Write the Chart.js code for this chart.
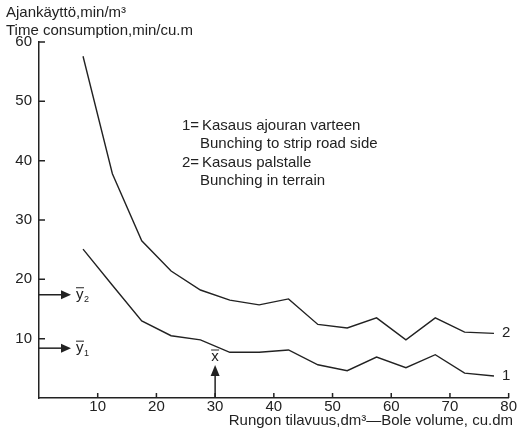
<!DOCTYPE html>
<html>
<head>
<meta charset="utf-8">
<script src="https://cdn.jsdelivr.net/npm/chart.js@4"></script>
<style>
html,body{margin:0;padding:0;background:#fff}
</style>
</head>
<body>
<canvas id="chart" width="517" height="428"></canvas>
<script>
// bole volume class midpoints, dm3
const volume = [7.5,12.5,17.5,22.5,27.5,32.5,37.5,42.5,47.5,52.5,57.5,62.5,67.5,72.5,77.5];
// 1 = bunching to strip road side
const roadSide = [25.1,19.0,13.0,10.5,9.8,7.7,7.7,8.1,5.6,4.6,6.9,5.1,7.3,4.2,3.7];
// 2 = bunching in terrain
const terrain = [57.6,37.8,26.5,21.4,18.2,16.5,15.7,16.7,12.4,11.8,13.5,9.8,13.5,11.1,10.9];
const xTicks = [10,20,30,40,50,60,70,80];
const yTicks = [10,20,30,40,50,60];
const meanY1 = 8.4, meanY2 = 17.4, meanX = 30;

const ink = '#222';
const FONT = '"Liberation Sans", Arial, sans-serif';
Chart.defaults.font.family = FONT;
Chart.defaults.font.size = 15;
Chart.defaults.color = ink;

function pts(ys){ return volume.map((v,i)=>({x:v, y:ys[i]})); }

const extras = {
  id:'extras',
  afterDraw(chart){
    const {ctx, chartArea:a, scales:{x, y}} = chart;
    ctx.save();
    ctx.strokeStyle = ink; ctx.fillStyle = ink; ctx.lineWidth = 1.5;

    // tick marks pointing inwards
    ctx.beginPath();
    xTicks.forEach(v=>{ const px = x.getPixelForValue(v); ctx.moveTo(px, a.bottom); ctx.lineTo(px, a.bottom-5); });
    yTicks.forEach(v=>{ const py = y.getPixelForValue(v); ctx.moveTo(a.left, py); ctx.lineTo(a.left+6, py); });
    ctx.stroke();

    ctx.font = '15px '+FONT;
    ctx.textBaseline = 'middle';
    ctx.textAlign = 'left';
    ctx.fillText('Ajankäyttö,min/m³', 6, 13);
    ctx.fillText('Time consumption,min/cu.m', 6, 31);

    // legend text
    ctx.fillText('1=', 182, 126);
    ctx.fillText('Kasaus ajouran varteen', 202, 126);
    ctx.fillText('Bunching to strip road side', 200, 144);
    ctx.fillText('2=', 182, 163);
    ctx.fillText('Kasaus palstalle', 202, 163);
    ctx.fillText('Bunching in terrain', 200, 181);

    // series numbers at the line ends
    const last = volume.length-1;
    ctx.fillText('2', x.getPixelForValue(volume[last])+8, y.getPixelForValue(terrain[last]));
    ctx.fillText('1', x.getPixelForValue(volume[last])+8, y.getPixelForValue(roadSide[last]));

    ctx.textAlign = 'right';
    ctx.fillText('Rungon tilavuus,dm³—Bole volume, cu.dm', 513, 421);

    // mean arrows on y axis
    [[meanY2,'2'],[meanY1,'1']].forEach(([v,sub])=>{
      const py = y.getPixelForValue(v);
      ctx.beginPath(); ctx.moveTo(a.left, py); ctx.lineTo(a.left+24, py); ctx.stroke();
      ctx.beginPath(); ctx.moveTo(a.left+22, py-4.5); ctx.lineTo(a.left+32, py); ctx.lineTo(a.left+22, py+4.5); ctx.closePath(); ctx.fill();
      ctx.textAlign = 'left';
      ctx.font = '15px '+FONT;
      ctx.fillText('y', a.left+37, py);
      ctx.lineWidth = 1;
      ctx.beginPath(); ctx.moveTo(a.left+37, py-7); ctx.lineTo(a.left+45, py-7); ctx.stroke();
      ctx.lineWidth = 1.5;
      ctx.font = '9px '+FONT;
      ctx.fillText(sub, a.left+45, py+5);
    });

    // mean arrow on x axis
    const px = x.getPixelForValue(meanX);
    ctx.beginPath(); ctx.moveTo(px, a.bottom); ctx.lineTo(px, a.bottom-24); ctx.stroke();
    ctx.beginPath(); ctx.moveTo(px-4.5, a.bottom-22); ctx.lineTo(px, a.bottom-33); ctx.lineTo(px+4.5, a.bottom-22); ctx.closePath(); ctx.fill();
    ctx.font = '15px '+FONT;
    ctx.textAlign = 'center';
    ctx.fillText('x', px, a.bottom-41);
    ctx.lineWidth = 1;
    ctx.beginPath(); ctx.moveTo(px-4, a.bottom-48); ctx.lineTo(px+4, a.bottom-48); ctx.stroke();
    ctx.restore();
  }
};

new Chart(document.getElementById('chart'), {
  type:'line',
  data:{
    datasets:[
      { label:'2', data:pts(terrain), borderColor:ink, borderWidth:1.4, pointRadius:0, tension:0, fill:false },
      { label:'1', data:pts(roadSide), borderColor:ink, borderWidth:1.4, pointRadius:0, tension:0, fill:false }
    ]
  },
  options:{
    responsive:false,
    animation:false,
    layout:{ padding:{ top:42, right:8, left:0, bottom:0 } },
    plugins:{ legend:{display:false}, tooltip:{enabled:false} },
    scales:{
      x:{
        type:'linear', min:0, max:80,
        afterBuildTicks: s=>{ s.ticks = xTicks.map(v=>({value:v})); },
        afterFit: s=>{ s.height = 30; },
        grid:{ display:false, drawTicks:false },
        border:{ display:true, color:ink, width:1.5 },
        ticks:{ padding:0, maxRotation:0, autoSkip:false }
      },
      y:{
        min:0, max:60,
        afterBuildTicks: s=>{ s.ticks = yTicks.map(v=>({value:v})); },
        afterFit: s=>{ s.width = 39; },
        grid:{ display:false, drawTicks:false },
        border:{ display:true, color:ink, width:1.5 },
        ticks:{ padding:7 }
      }
    }
  },
  plugins:[extras]
});
</script>
</body>
</html>
